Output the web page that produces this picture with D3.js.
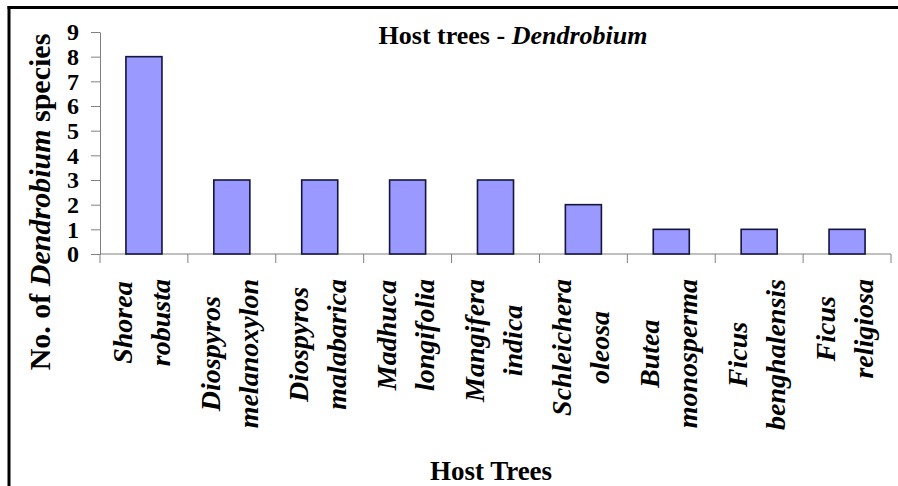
<!DOCTYPE html>
<html lang="en">
<head>
<meta charset="utf-8">
<title>Host trees - Dendrobium</title>
<script src="https://d3js.org/d3.v7.min.js"></script>
<style>
  body { margin: 0; background: #fff; }
  svg text { font-family: "Liberation Serif", "Times New Roman", serif; font-weight: bold; fill: #000; }
</style>
</head>
<body>
<div id="chart"></div>
<script>
// data
var genus = ["Shorea", "Diospyros", "Diospyros", "Madhuca", "Mangifera", "Schleichera", "Butea", "Ficus", "Ficus"];
var epithet = ["robusta", "melanoxylon", "malabarica", "longifolia", "indica", "oleosa", "monosperma", "benghalensis", "religiosa"];
var counts = [8, 3, 3, 3, 3, 2, 1, 1, 1];
var yTicks = [0, 1, 2, 3, 4, 5, 6, 7, 8, 9];

var W = 898, H = 486;
var plotL = 100, plotR = 891, plotT = 32, plotB = 254;

var svg = d3.select("#chart").append("svg")
  .attr("width", W)
  .attr("height", H);

svg.append("rect").attr("width", W).attr("height", H).attr("fill", "#fff");

// frame (top + left edges are visible)
svg.append("line").attr("x1", 7.5).attr("x2", W).attr("y1", 7.5).attr("y2", 7.5)
   .attr("stroke", "#000").attr("stroke-width", 3);
svg.append("line").attr("x1", 9).attr("x2", 9).attr("y1", 6).attr("y2", H)
   .attr("stroke", "#000").attr("stroke-width", 3);

var keys = genus.map(function(d, i) { return i; });

var x = d3.scaleBand()
  .domain(keys)
  .range([plotL, plotR])
  .paddingInner(0.59)
  .paddingOuter(0.295);

var y = d3.scaleLinear()
  .domain([0, 9])
  .range([plotB, plotT]);

// y axis
var yAxis = svg.append("g")
  .attr("transform", "translate(" + plotL + ",0)")
  .call(d3.axisLeft(y).tickValues(yTicks).tickSize(9).tickSizeOuter(0).tickPadding(12));
yAxis.selectAll("path, line").attr("stroke", "#808080");
yAxis.selectAll("text")
  .attr("font-size", 24)
  .attr("font-family", "Liberation Serif")
  .attr("font-weight", "bold")
  .attr("fill", "#000");

// x axis line + ticks between categories
var step = x.step();
var bounds = keys.map(function(k) { return x(k) - step * x.paddingInner() / 2; });
bounds.push(plotR);

svg.append("line")
  .attr("x1", plotL).attr("x2", plotR)
  .attr("y1", y(0)).attr("y2", y(0))
  .attr("stroke", "#808080");

svg.selectAll(".xtick").data(bounds).enter().append("line")
  .attr("class", "xtick")
  .attr("x1", function(d) { return d; })
  .attr("x2", function(d) { return d; })
  .attr("y1", y(0))
  .attr("y2", y(0) + 9)
  .attr("stroke", "#808080");

// bars
svg.selectAll(".bar").data(counts).enter().append("rect")
  .attr("class", "bar")
  .attr("x", function(d, i) { return x(i); })
  .attr("y", function(d) { return y(d); })
  .attr("width", x.bandwidth())
  .attr("height", function(d) { return y(0) - y(d); })
  .attr("fill", "#9999ff")
  .attr("stroke", "#14143c")
  .attr("stroke-width", 1.6);

// category labels, rotated, two lines centred in a block hanging from the axis
var labTop = 279;
keys.forEach(function(i) {
  var cx = x(i) + x.bandwidth() / 2;
  var lines = [genus[i], epithet[i]];
  var offs = [-12, 26];
  var nodes = lines.map(function(t) {
    return svg.append("text")
      .attr("font-size", 28)
      .attr("font-style", "italic")
      .attr("text-anchor", "middle")
      .text(t);
  });
  var maxLen = d3.max(nodes, function(n) { return n.node().getComputedTextLength(); });
  var cy = labTop + maxLen / 2;
  nodes.forEach(function(n, j) {
    n.attr("transform", "translate(" + (cx + offs[j]) + "," + cy + ") rotate(-90)");
  });
});

// title
var title = svg.append("text")
  .attr("x", 513)
  .attr("y", 44)
  .attr("text-anchor", "middle")
  .attr("font-size", 26);
title.append("tspan").text("Host trees - ");
title.append("tspan").attr("font-style", "italic").text("Dendrobium");

// y axis title
var ylab = svg.append("text")
  .attr("transform", "translate(50,202) rotate(-90)")
  .attr("text-anchor", "middle")
  .attr("font-size", 30);
ylab.append("tspan").text("No. of ");
ylab.append("tspan").attr("font-style", "italic").text("Dendrobium");
ylab.append("tspan").text(" species");

// x axis title
svg.append("text")
  .attr("x", 491)
  .attr("y", 480)
  .attr("text-anchor", "middle")
  .attr("font-size", 27)
  .text("Host Trees");
</script>
</body>
</html>
